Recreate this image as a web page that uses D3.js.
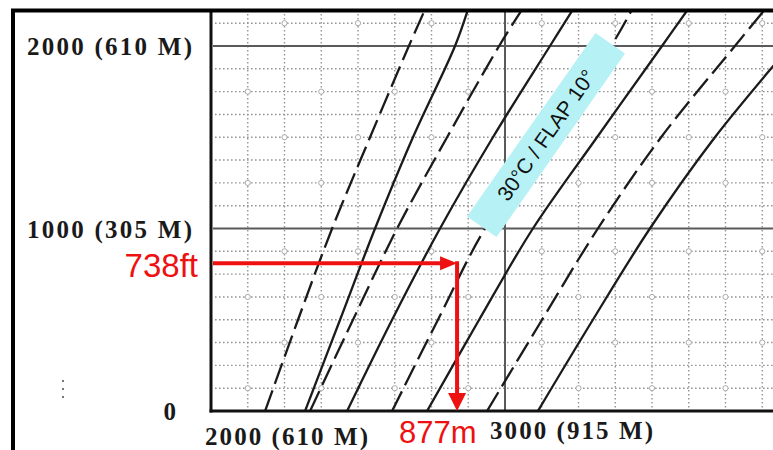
<!DOCTYPE html>
<html>
<head>
<meta charset="utf-8">
<script src="https://cdn.jsdelivr.net/npm/d3@7"></script>
<style>
  html, body { margin: 0; padding: 0; background: #fff; overflow: hidden; }
</style>
</head>
<body>
<svg id="chart" width="773" height="450"></svg>
<script>
// altitude (ft) at which each distance is read
const altitudes = [0, 500, 1000, 1500, 2000, 2200]

// takeoff distance (ft) per guide line, left to right
const dist1 = [2184, 2296, 2412, 2541, 2673, 2728]
const dist2 = [2320, 2439, 2558, 2687, 2830, 2874]
const dist3 = [2337, 2483, 2633, 2803, 2980, 3058]
const dist4 = [2463, 2616, 2779, 2959, 3153, 3231]
const dist5 = [2616, 2772, 2932, 3146, 3361, 3432]
const dist6 = [2735, 2912, 3095, 3313, 3534, 3622]
const dist7 = [2939, 3126, 3316, 3531, 3782, 3884]
const dist8 = [3112, 3299, 3493, 3714, 3969, 4071]
const series = [dist1, dist2, dist3, dist4, dist5, dist6, dist7, dist8]

const yTicks = [0, 1000, 2000]
const yTickLabels = ['0', '1000 (305 M)', '2000 (610 M)']
const xTicks = [2000, 3000]
const xTickLabels = ['2000 (610 M)', '3000 (915 M)']

const markerAlt = 810
const markerDist = 2837
const altLabel = '738ft'
const distLabel = '877m'
const conditionLabel = '30°C / FLAP 10°'

const color = {
  frame: '#000',
  axis: '#111',
  major: '#5a5a5a',
  minor: '#959595',
  curve: '#1b1b1b',
  marker: '#ee1111',
  tag: '#b6f1f5',
  text: '#1a1a1a'
}

const svg = d3.select('#chart')
const plot = { left: 211, top: 10, bottom: 411, right: 780 }

const x = d3.scaleLinear().domain([2000, 3000]).range([211, 505])
const y = d3.scaleLinear().domain([0, 2000]).range([411, 46])

svg.append('rect').attr('width', 773).attr('height', 450).attr('fill', '#fff')

svg.append('defs')
  .append('clipPath')
  .attr('id', 'plotClip')
  .append('rect')
  .attr('x', plot.left + 2)
  .attr('y', plot.top + 1)
  .attr('width', plot.right - plot.left)
  .attr('height', plot.bottom - plot.top - 2)

const g = svg.append('g').attr('clip-path', 'url(#plotClip)')

// minor dotted grid (125 ft steps)
const xMinor = d3.range(2125, 4000, 125).filter((d) => d % 1000 !== 0)
const yMinor = d3.range(125, 2300, 125).filter((d) => d % 1000 !== 0)

g.selectAll('.vMinor')
  .data(xMinor)
  .enter()
  .append('line')
  .attr('class', 'vMinor')
  .attr('x1', (d) => x(d))
  .attr('x2', (d) => x(d))
  .attr('y1', plot.top)
  .attr('y2', plot.bottom)
  .attr('stroke', color.minor)
  .attr('stroke-width', 1.4)
  .attr('stroke-dasharray', '1.6,2.4')

g.selectAll('.hMinor')
  .data(yMinor)
  .enter()
  .append('line')
  .attr('class', 'hMinor')
  .attr('x1', plot.left)
  .attr('x2', plot.right)
  .attr('y1', (d) => y(d))
  .attr('y2', (d) => y(d))
  .attr('stroke', color.minor)
  .attr('stroke-width', 1.4)
  .attr('stroke-dasharray', '1.6,2.4')

// little circles where some grid lines cross
const nodes = []
yMinor.forEach((a, k) => {
  if (k % 2 !== 0) return
  xMinor.forEach((dd, i) => {
    if ((i + k / 2) % 2 === 0) nodes.push([dd, a])
  })
})
g.selectAll('.node')
  .data(nodes)
  .enter()
  .append('circle')
  .attr('class', 'node')
  .attr('cx', (d) => x(d[0]))
  .attr('cy', (d) => y(d[1]))
  .attr('r', 2.6)
  .attr('fill', '#fff')
  .attr('stroke', '#aaa')
  .attr('stroke-width', 1)

// major grid lines
g.selectAll('.hMajor')
  .data([1000, 2000])
  .enter()
  .append('line')
  .attr('x1', plot.left)
  .attr('x2', plot.right)
  .attr('y1', (d) => y(d))
  .attr('y2', (d) => y(d))
  .attr('stroke', color.major)
  .attr('stroke-width', 2)

g.selectAll('.vMajor')
  .data([3000])
  .enter()
  .append('line')
  .attr('x1', (d) => x(d))
  .attr('x2', (d) => x(d))
  .attr('y1', plot.top)
  .attr('y2', plot.bottom)
  .attr('stroke', color.major)
  .attr('stroke-width', 2)

// guide curves
const line = d3
  .line()
  .x((d) => x(d[0]))
  .y((d) => y(d[1]))
  .curve(d3.curveCatmullRom)

g.selectAll('.curve')
  .data(series)
  .enter()
  .append('path')
  .attr('class', 'curve')
  .attr('d', (s) => line(s.map((v, j) => [v, altitudes[j]])))
  .attr('fill', 'none')
  .attr('stroke', color.curve)
  .attr('stroke-width', 2.3)
  .attr('stroke-dasharray', (d, i) => (i % 2 === 0 ? '22,7' : null))

// condition tag
const tag = svg
  .append('g')
  .attr('transform', 'translate(546,135) rotate(-55)')
tag.append('rect')
  .attr('x', -112)
  .attr('y', -18)
  .attr('width', 224)
  .attr('height', 36)
  .attr('fill', color.tag)
tag.append('text')
  .attr('text-anchor', 'middle')
  .attr('dy', '0.36em')
  .attr('font-family', 'Liberation Sans, Arial, sans-serif')
  .style('font-size', '21px')
  .attr('fill', '#111')
  .text(conditionLabel)

// axes
svg.append('line')
  .attr('x1', plot.left).attr('x2', plot.left)
  .attr('y1', plot.top).attr('y2', plot.bottom + 1.5)
  .attr('stroke', color.axis).attr('stroke-width', 3)
svg.append('line')
  .attr('x1', plot.left - 1.5).attr('x2', plot.right)
  .attr('y1', plot.bottom).attr('y2', plot.bottom)
  .attr('stroke', color.axis).attr('stroke-width', 3.2)

// tick labels
const tickFont = 'Liberation Serif, Times New Roman, serif'

svg.selectAll('.yLabel')
  .data(yTicks)
  .enter()
  .append('text')
  .attr('class', 'yLabel')
  .attr('x', (d) => (d === 0 ? 176 : 192))
  .attr('y', (d) => y(d) + 9)
  .attr('text-anchor', 'end')
  .attr('font-family', tickFont)
  .attr('font-weight', 700)
  .style('font-size', '25px')
  .attr('fill', color.text)
  .attr('textLength', (d, i) => (d === 0 ? null : 165))
  .attr('lengthAdjust', 'spacing')
  .text((d, i) => yTickLabels[i])

const xLabelShift = [[-6, 34], [-15, 28]]
svg.selectAll('.xLabel')
  .data(xTicks)
  .enter()
  .append('text')
  .attr('class', 'xLabel')
  .attr('x', (d, i) => x(d) + xLabelShift[i][0])
  .attr('y', (d, i) => plot.bottom + xLabelShift[i][1])
  .attr('font-family', tickFont)
  .attr('font-weight', 700)
  .style('font-size', '25px')
  .attr('fill', color.text)
  .attr('textLength', 163)
  .attr('lengthAdjust', 'spacing')
  .text((d, i) => xTickLabels[i])

// red reading arrows
const mx = x(markerDist)
const my = y(markerAlt)
svg.append('line')
  .attr('x1', plot.left + 2).attr('x2', mx - 14)
  .attr('y1', my).attr('y2', my)
  .attr('stroke', color.marker).attr('stroke-width', 4)
svg.append('path')
  .attr('d', `M${mx},${my} L${mx - 17},${my - 7} L${mx - 17},${my + 7} Z`)
  .attr('fill', color.marker)
svg.append('line')
  .attr('x1', mx).attr('x2', mx)
  .attr('y1', my - 2).attr('y2', plot.bottom - 16)
  .attr('stroke', color.marker).attr('stroke-width', 4)
svg.append('path')
  .attr('d', `M${mx},${plot.bottom} L${mx - 9},${plot.bottom - 18} L${mx + 9},${plot.bottom - 18} Z`)
  .attr('fill', color.marker)

svg.append('text')
  .attr('x', 198)
  .attr('y', 277)
  .attr('text-anchor', 'end')
  .attr('font-family', 'Liberation Sans, Arial, sans-serif')
  .style('font-size', '33px')
  .attr('fill', color.marker)
  .text(altLabel)

svg.append('text')
  .attr('x', 399)
  .attr('y', 443)
  .attr('font-family', 'Liberation Sans, Arial, sans-serif')
  .style('font-size', '31px')
  .attr('fill', color.marker)
  .text(distLabel)

// scan specks near the left margin
svg.selectAll('.speck')
  .data([380, 388, 396])
  .enter()
  .append('rect')
  .attr('x', 62).attr('y', (d) => d)
  .attr('width', 2).attr('height', 2)
  .attr('fill', '#777')

// outer frame
svg.append('rect')
  .attr('x', 13)
  .attr('y', 10.5)
  .attr('width', 820)
  .attr('height', 500)
  .attr('fill', 'none')
  .attr('stroke', color.frame)
  .attr('stroke-width', 4)
</script>
</body>
</html>
